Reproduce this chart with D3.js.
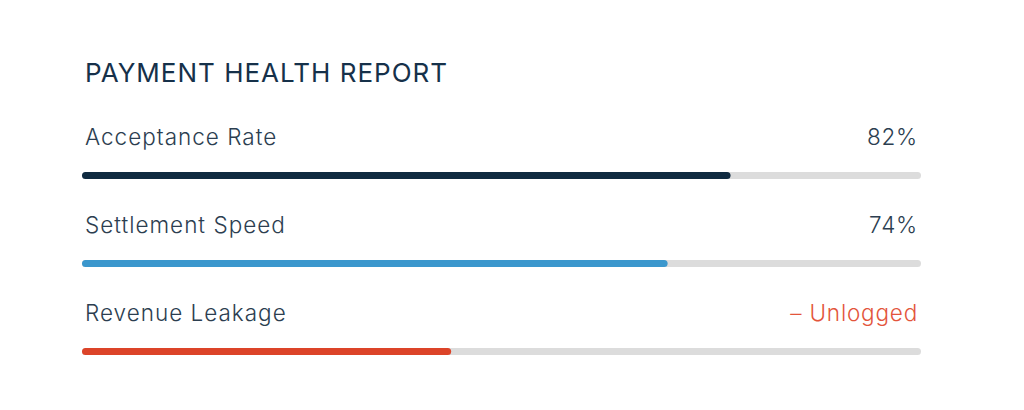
<!DOCTYPE html>
<html><head><meta charset="utf-8">
<script src="https://cdn.jsdelivr.net/npm/d3@7"></script>
<style>body{margin:0;background:#fff}svg{display:block}</style>
</head><body><svg id="c" width="1024" height="410"></svg>
<script>
const title = "PAYMENT HEALTH REPORT";
const categories = ["Acceptance Rate", "Settlement Speed", "Revenue Leakage"];
const barValues = [77.3, 69.8, 44.0];
const valueLabels = ["82%", "74%", "– Unlogged"];
const barColors = ["#0f2a40", "#3b97cd", "#dc4429"];
const labelColors = ["#2c3e50", "#2c3e50", "#e3553c"];

const svg = d3.select("#c");
const x = d3.scaleLinear().domain([0, 100]).range([82, 921]);
const y = d3.scaleBand().domain(categories).range([132, 396]);

svg.append("text").attr("x", 85).attr("y", 81.5)
  .attr("font-family", "Inter").attr("font-size", 26).attr("letter-spacing", 1)
  .attr("fill", "#16314a").text(title);

const g = svg.selectAll("g.row").data(categories).join("g").attr("class", "row")
  .attr("transform", d => `translate(0,${y(d)})`);

g.append("text").attr("x", 85).attr("y", 13)
  .attr("font-family", "Inter").attr("font-weight", 300).attr("font-size", 22.5)
  .attr("letter-spacing", 1)
  .attr("fill", "#2c3e50").text(d => d);

g.append("text").attr("x", 918).attr("y", 13).attr("text-anchor", "end")
  .attr("font-family", "Inter").attr("font-weight", 300).attr("font-size", 22.5)
  .attr("letter-spacing", 0.8)
  .attr("fill", (d, i) => labelColors[i]).text((d, i) => valueLabels[i]);

g.append("rect").attr("x", x(0)).attr("y", 40).attr("height", 7).attr("rx", 3.5)
  .attr("width", x(100) - x(0)).attr("fill", "#dcdcdc");

g.append("rect").attr("x", x(0)).attr("y", 40).attr("height", 7).attr("rx", 3.5)
  .attr("width", (d, i) => x(barValues[i]) - x(0)).attr("fill", (d, i) => barColors[i]);
</script></body></html>
